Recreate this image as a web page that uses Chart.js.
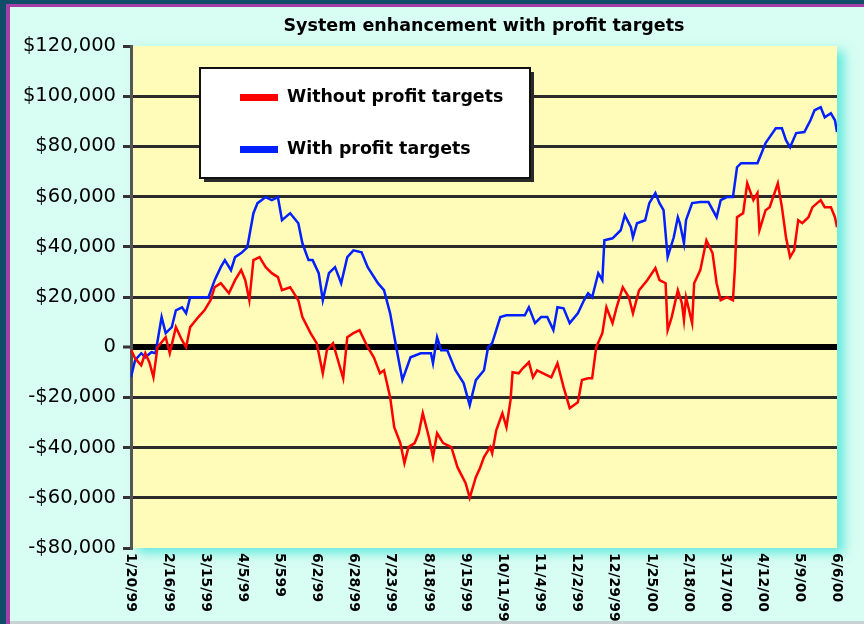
<!DOCTYPE html>
<html>
<head>
<meta charset="utf-8">
<script src="https://cdn.jsdelivr.net/npm/chart.js@4.4.1/dist/chart.umd.min.js"></script>
<style>
  html, body { margin: 0; padding: 0; background: #d8fdf2; }
  #wrap { width: 864px; height: 624px; position: relative; }
</style>
</head>
<body>
<div id="wrap"><canvas id="equityChart" width="864" height="624"></canvas></div>
<script>
const chartTitle = "System enhancement with profit targets";
const seriesNames = ["Without profit targets", "With profit targets"];
const dateLabels = ["1/20/99", "2/16/99", "3/15/99", "4/5/99", "5/599", "6/2/99", "6/28/99",
  "7/23/99", "8/18/99", "9/15/99", "10/11/99", "11/4/99", "12/2/99", "12/29/99",
  "1/25/00", "2/18/00", "3/17/00", "4/12/00", "5/9/00", "6/6/00"];
const totalDays = 346;

// trading day index -> equity ($)
const redDays = [0, 2, 5, 7, 9, 11, 13, 17, 19, 22,
  25, 27, 29, 33, 36, 39, 41, 44, 48, 51,
  54, 56, 58, 60, 63, 66, 69, 72, 74, 78,
  82, 84, 88, 91, 94, 96, 99, 101, 104, 106,
  109, 112, 116, 119, 122, 124, 127, 129, 132, 134,
  136, 139, 141, 143, 146, 148, 150, 153, 157, 160,
  164, 166, 169, 171, 173, 176, 177, 179, 182, 184,
  186, 187, 190, 192, 195, 197, 199, 202, 204, 206,
  209, 212, 215, 219, 221, 224, 226, 228, 231, 233,
  236, 238, 241, 244, 246, 249, 253, 257, 259, 262,
  263, 265, 268, 270, 271, 272, 275, 276, 279, 282,
  285, 287, 289, 292, 295, 296, 297, 300, 302, 305,
  307, 308, 311, 313, 317, 319, 321, 323, 325, 327,
  329, 332, 334, 338, 340, 343, 345, 346];
const redValues = [-1000, -4400, -7200, -2400, -6000, -12000, 0, 4000, -2400, 8000,
  2800, 0, 8000, 12000, 14700, 18700, 23900, 25500, 21500, 26700,
  30700, 26700, 18700, 34700, 35900, 31900, 29500, 27900, 22700, 23900,
  18700, 12000, 5600, 1600, -10400, -1200, 1600, -4000, -12400, 4000,
  5600, 6800, 0, -4000, -10400, -9200, -19900, -31900, -38200, -46200,
  -39800, -38200, -34300, -26300, -35900, -43800, -34300, -38200, -39800, -47800,
  -54200, -60000, -51800, -48200, -43800, -39800, -42200, -33100, -26300, -31900,
  -21100, -10000, -10400, -8400, -6000, -12000, -9200, -10400, -11200, -12000,
  -6400, -15900, -24300, -21900, -13100, -12400, -12400, 0, 5600, 15900,
  9600, 15900, 23900, 19900, 13500, 22700, 26700, 31500, 26700, 25500,
  6800, 12000, 22700, 17500, 10800, 19900, 9600, 25500, 30700, 42600,
  37500, 25500, 18700, 19900, 18700, 31900, 51800, 53400, 65300, 58600,
  61400, 46600, 54600, 55800, 65300, 55800, 43800, 35900, 38600, 50600,
  49400, 51800, 55800, 58600, 55800, 55800, 51800, 47800];

const blueDays = [0, 2, 5, 7, 10, 12, 15, 17, 20, 22,
  25, 27, 29, 33, 38, 41, 44, 46, 49, 51,
  54, 57, 60, 62, 66, 69, 72, 74, 78, 82,
  84, 87, 89, 92, 94, 97, 100, 103, 106, 109,
  113, 116, 121, 124, 127, 130, 133, 137, 142, 147,
  148, 150, 152, 155, 159, 163, 166, 169, 173, 175,
  177, 181, 184, 189, 193, 195, 198, 201, 204, 207,
  209, 212, 215, 219, 222, 224, 226, 229, 231, 232,
  236, 240, 242, 245, 246, 248, 252, 254, 257, 259,
  261, 263, 266, 268, 269, 271, 272, 275, 279, 283,
  287, 289, 292, 295, 297, 299, 303, 307, 309, 311,
  313, 316, 319, 321, 323, 326, 330, 333, 335, 338,
  340, 343, 345, 346];
const blueValues = [-12000, -5200, -2400, -4000, -2000, -2400, 12000, 5600, 8000, 14700,
  15900, 13500, 19900, 19900, 19900, 26700, 31900, 34700, 30700, 35900,
  37500, 39800, 53400, 57400, 59800, 58600, 59800, 50600, 53400, 49400,
  41400, 34700, 34700, 29500, 18700, 29500, 31900, 25500, 35900, 38600,
  37800, 31900, 25500, 22700, 13500, 0, -13100, -4000, -2400, -2400,
  -6400, 4000, -1200, -1200, -9200, -14300, -23100, -13100, -9200, 0,
  1600, 12000, 12700, 12700, 12700, 15900, 9600, 12000, 12000, 6800,
  15900, 15500, 9600, 13500, 18700, 21500, 19900, 29500, 26700, 42600,
  43400, 46600, 52600, 47800, 43800, 49400, 50600, 57400, 61400, 57400,
  54600, 35900, 43800, 51800, 49400, 41400, 50600, 57400, 57800, 57800,
  51800, 58600, 59800, 59800, 71700, 73300, 73300, 73300, 77300, 81300,
  83700, 87200, 87200, 82500, 79700, 85300, 85700, 90400, 94400, 95600,
  91600, 93200, 90400, 85700];

const yMin = -80000;
const yMax = 120000;
const yStep = 20000;

const MINT = "#d8fdf2";
const PLOT_BG = "#fffbb8";
const FONT = "DejaVu Sans";

function toPoints(days, vals) {
  return days.map((d, i) => ({ x: d, y: vals[i] }));
}

function money(v) {
  if (v === 0) return "0";
  return (v < 0 ? "-$" : "$") + Math.abs(v).toLocaleString("en-US");
}

const decor = {
  id: "decor",
  beforeDraw(chart) {
    const { ctx, chartArea: a, width, height } = chart;
    ctx.save();
    ctx.fillStyle = MINT;
    ctx.fillRect(0, 0, width, height);
    // frame
    ctx.fillStyle = "#0f4d69";
    ctx.fillRect(0, 0, 6, height);
    ctx.fillRect(0, 0, width, 4);
    ctx.fillStyle = "#a43fa8";
    ctx.fillRect(6, 4, 4, height - 4);
    ctx.fillRect(6, 4, width - 6, 3);
    ctx.fillStyle = "#c9d3d3";
    ctx.fillRect(10, height - 3, width - 10, 3);
    // plot area with cyan glow
    ctx.shadowColor = "rgba(60, 225, 215, 0.75)";
    ctx.shadowBlur = 10;
    ctx.shadowOffsetX = 7;
    ctx.shadowOffsetY = 5;
    ctx.fillStyle = PLOT_BG;
    ctx.fillRect(a.left, a.top, a.right - a.left, a.bottom - a.top);
    ctx.restore();
  },
  afterDraw(chart) {
    const { ctx, chartArea: a } = chart;
    const xs = chart.scales.x;
    ctx.save();
    ctx.fillStyle = "#000";
    // title
    ctx.font = "bold 17.5px '" + FONT + "'";
    ctx.textAlign = "center";
    ctx.textBaseline = "middle";
    ctx.fillText(chartTitle, (a.left + a.right) / 2, 26);

    // date labels, reading top to bottom
    ctx.font = "bold 14px '" + FONT + "'";
    ctx.textAlign = "left";
    dateLabels.forEach((lab, i) => {
      const x = xs.getPixelForValue(i * totalDays / (dateLabels.length - 1));
      ctx.save();
      ctx.translate(x, a.bottom + 5);
      ctx.rotate(Math.PI / 2);
      ctx.fillText(lab, 0, 0);
      ctx.restore();
    });

    // legend
    const bx = 200, by = 68, bw = 330, bh = 110;
    ctx.fillStyle = "#2a2a2a";
    ctx.fillRect(bx + 4, by + 4, bw, bh);
    ctx.fillStyle = "#fff";
    ctx.fillRect(bx, by, bw, bh);
    ctx.strokeStyle = "#111";
    ctx.lineWidth = 2;
    ctx.strokeRect(bx, by, bw, bh);
    const colors = ["#ff0000", "#0020ff"];
    const rowsY = [97, 149];
    ctx.font = "bold 17.4px '" + FONT + "'";
    ctx.textBaseline = "middle";
    seriesNames.forEach((name, i) => {
      ctx.fillStyle = colors[i];
      ctx.fillRect(240, rowsY[i] - 3, 38, 7);
      ctx.fillStyle = "#000";
      ctx.fillText(name, 287, rowsY[i]);
    });
    ctx.restore();
  }
};

const equityChart = new Chart(document.getElementById("equityChart"), {
  type: "line",
  data: {
    datasets: [
      {
        label: seriesNames[0],
        data: toPoints(redDays, redValues),
        borderColor: "#ff0000",
        borderWidth: 2.5,
        pointRadius: 0,
        tension: 0,
      },
      {
        label: seriesNames[1],
        data: toPoints(blueDays, blueValues),
        borderColor: "#0020ff",
        borderWidth: 2.5,
        pointRadius: 0,
        tension: 0,
      },
    ],
  },
  options: {
    responsive: false,
    animation: false,
    layout: { padding: { left: 0, top: 46, right: 27, bottom: 76 } },
    plugins: {
      legend: { display: false },
      title: { display: false },
      tooltip: { enabled: false },
    },
    scales: {
      x: {
        type: "linear",
        min: 0,
        max: totalDays,
        display: false,
      },
      y: {
        min: yMin,
        max: yMax,
        afterFit: (s) => { s.width = 131; },
        ticks: {
          stepSize: yStep,
          padding: 7,
          color: "#000",
          font: { family: FONT, size: 19.5 },
          callback: (v) => money(v),
        },
        grid: {
          tickLength: 8,
          tickColor: "#333",
          tickWidth: 3,
          color: (c) => {
            const v = c.tick && c.tick.value;
            if (v === yMin || v === yMax) return "rgba(0,0,0,0)";
            return v === 0 ? "#000" : "#2b2b2b";
          },
          lineWidth: (c) => (c.tick && c.tick.value === 0 ? 6 : 3),
        },
        border: { display: true, color: "#555", width: 3 },
      },
    },
  },
  plugins: [decor],
});
</script>
</body>
</html>
